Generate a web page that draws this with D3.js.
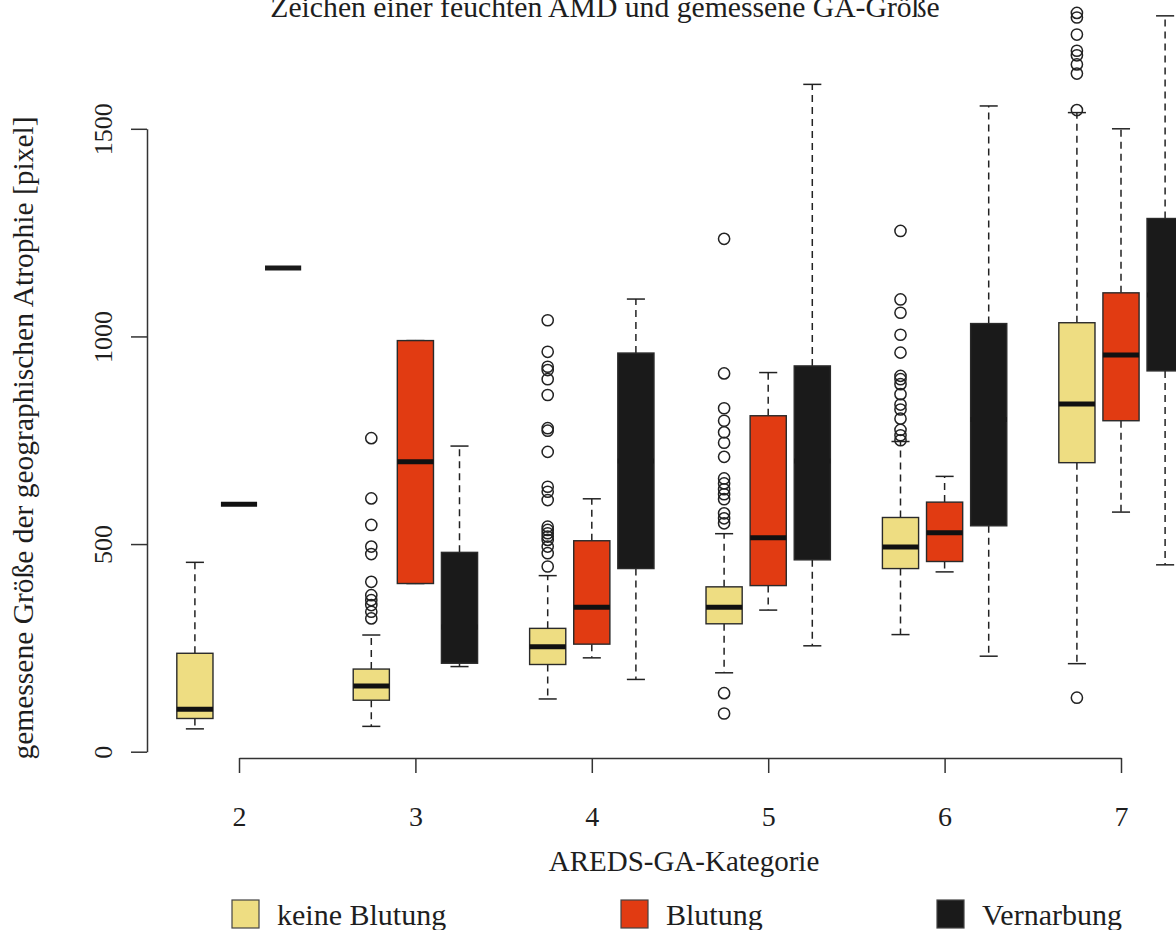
<!DOCTYPE html>
<html>
<head>
<meta charset="utf-8">
<script src="https://cdn.jsdelivr.net/npm/d3@7"></script>
<style>
  html, body { margin: 0; padding: 0; background: #ffffff; }
  svg { display: block; }
  text { font-family: "Liberation Serif", "Times New Roman", serif; fill: #1e1e1e; }
</style>
</head>
<body>
<svg id="chart" width="1176" height="930"></svg>
<script>
// AREDS GA categories on the x axis
const categories = [2, 3, 4, 5, 6, 7];
const groupNames = ["keine Blutung", "Blutung", "Vernarbung"];
const groupColors = ["#EEDD82", "#E13B12", "#1A1A1A"];
const yTicks = [0, 500, 1000, 1500];

// Box statistics per category: [lower whisker, Q1, median, Q3, upper whisker]
const keineBlutung = [
  [55, 80, 102, 237, 456],
  [61, 124, 158, 199, 281],
  [127, 210, 253, 297, 424],
  [190, 308, 348, 397, 525],
  [282, 441, 493, 564, 747],
  [212, 696, 837, 1033, 1539]
];
const blutung = [
  [596, 596, 596, 596, 596],
  [405, 405, 698, 990, 990],
  [226, 259, 348, 508, 609],
  [341, 400, 515, 809, 913],
  [433, 458, 527, 601, 663],
  [577, 797, 955, 1105, 1500]
];
const vernarbung = [
  [1165, 1165, 1165, 1165, 1165],
  [205, 213, 300, 480, 736],
  [174, 441, 700, 960, 1090],
  [255, 462, 700, 929, 1607],
  [230, 544, 800, 1031, 1555],
  [450, 917, 1100, 1284, 1772]
];

// Outlying values beyond the whiskers
const keineBlutungOutliers = [
  [],
  [755, 610, 546, 494, 476, 409, 377, 365, 353, 337, 321],
  [1039, 963, 927, 919, 897, 859, 779, 773, 722, 638, 626, 606, 542, 534, 526, 518, 510, 494, 478, 446],
  [1235, 911, 827, 797, 769, 744, 710, 658, 646, 632, 620, 608, 574, 562, 550, 141, 92],
  [1254, 1089, 1057, 1004, 961, 905, 897, 885, 861, 836, 824, 802, 775, 762, 750],
  [1779, 1768, 1727, 1688, 1677, 1655, 1633, 1545, 130]
];
const blutungOutliers = [[], [], [], [], [], []];
const vernarbungOutliers = [[], [], [], [], [], []];

const stats = [keineBlutung, blutung, vernarbung];
const outliers = [keineBlutungOutliers, blutungOutliers, vernarbungOutliers];
const groupOffset = [-0.25, 0, 0.25];
const boxWidth = 0.205;
// median line colour: black, which merges with the dark fill of the last group
const medianColors = ["#111111", "#111111", "#1A1A1A"];

const svg = d3.select("#chart");

const x = d3.scaleLinear().domain([2, 7]).range([239, 1121]);
const y = d3.scaleLinear().domain([0, 1500]).range([751.7, 128.8]);

const boxPx = x(2 + boxWidth) - x(2);

// Boxes, whiskers, medians and outliers
stats.forEach((series, gi) => {
  const g = svg.append("g").attr("class", "group-" + gi);
  series.forEach((s, ci) => {
    const [lo, q1, med, q3, hi] = s;
    const cx = x(categories[ci] + groupOffset[gi]);
    const bg = g.append("g");
    // whiskers (dashed)
    bg.append("line")
      .attr("x1", cx).attr("x2", cx).attr("y1", y(q3)).attr("y2", y(hi))
      .attr("stroke", "#222").attr("stroke-width", 1.5).attr("stroke-dasharray", "7,5");
    bg.append("line")
      .attr("x1", cx).attr("x2", cx).attr("y1", y(q1)).attr("y2", y(lo))
      .attr("stroke", "#222").attr("stroke-width", 1.5).attr("stroke-dasharray", "7,5");
    // staples
    [lo, hi].forEach(v => {
      bg.append("line")
        .attr("x1", cx - boxPx / 4).attr("x2", cx + boxPx / 4)
        .attr("y1", y(v)).attr("y2", y(v))
        .attr("stroke", "#222").attr("stroke-width", 1.5);
    });
    // box
    bg.append("rect")
      .attr("x", cx - boxPx / 2).attr("width", boxPx)
      .attr("y", y(q3)).attr("height", Math.max(0, y(q1) - y(q3)))
      .attr("fill", groupColors[gi])
      .attr("stroke", "#2a2a2a").attr("stroke-width", 1.4);
    // median
    bg.append("line")
      .attr("x1", cx - boxPx / 2).attr("x2", cx + boxPx / 2)
      .attr("y1", y(med)).attr("y2", y(med))
      .attr("stroke", medianColors[gi]).attr("stroke-width", 5);
    // outliers
    bg.selectAll("circle")
      .data(outliers[gi][ci])
      .join("circle")
      .attr("cx", cx).attr("cy", d => y(d)).attr("r", 5.6)
      .attr("fill", "none").attr("stroke", "#222").attr("stroke-width", 1.5);
  });
});

// Y axis
const yAxis = svg.append("g")
  .attr("transform", "translate(147,0)")
  .call(d3.axisLeft(y).tickValues(yTicks).tickSize(16).tickSizeOuter(0).tickFormat(d3.format("d")));
yAxis.select(".domain").attr("stroke", "#333").attr("stroke-width", 1.5);
yAxis.selectAll(".tick line").attr("stroke", "#333").attr("stroke-width", 1.5);
yAxis.selectAll(".tick text")
  .attr("transform", "rotate(-90)")
  .attr("x", 0).attr("y", -35).attr("dy", 0)
  .attr("text-anchor", "middle")
  .style("font-size", "26px").style("font-family", "Liberation Serif").attr("fill", "#1e1e1e");

// X axis
const xAxis = svg.append("g")
  .attr("transform", "translate(0,758)")
  .call(d3.axisBottom(x).tickValues(categories).tickSize(15).tickSizeOuter(0).tickFormat(d3.format("d")));
xAxis.select(".domain").attr("stroke", "#333").attr("stroke-width", 1.5);
xAxis.selectAll(".tick line").attr("stroke", "#333").attr("stroke-width", 1.5);
xAxis.selectAll(".tick text")
  .attr("y", 68).attr("dy", 0)
  .style("font-size", "28px").style("font-family", "Liberation Serif").attr("fill", "#1e1e1e");

// Titles
svg.append("text")
  .attr("x", 605).attr("y", 17)
  .attr("text-anchor", "middle")
  .style("font-size", "29.7px")
  .text("Zeichen einer feuchten AMD und gemessene GA-Größe");

svg.append("text")
  .attr("x", 684).attr("y", 871)
  .attr("text-anchor", "middle")
  .style("font-size", "29px")
  .text("AREDS-GA-Kategorie");

svg.append("text")
  .attr("transform", "translate(33,438) rotate(-90)")
  .attr("text-anchor", "middle")
  .style("font-size", "29.5px")
  .text("gemessene Größe der geographischen Atrophie [pixel]");

// Legend
const legendX = [232, 621, 937];
const legend = svg.append("g").attr("class", "legend");
groupNames.forEach((name, i) => {
  legend.append("rect")
    .attr("x", legendX[i]).attr("y", 900).attr("width", 27).attr("height", 28)
    .attr("fill", groupColors[i]).attr("stroke", "#444").attr("stroke-width", 1.2);
  legend.append("text")
    .attr("x", legendX[i] + 45).attr("y", 925)
    .style("font-size", "30px")
    .text(name);
});
</script>
</body>
</html>
